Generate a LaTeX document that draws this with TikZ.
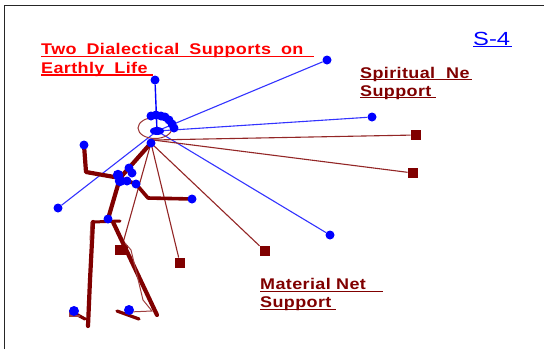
\documentclass[tikz,border=0pt]{standalone}
\usepackage{fontspec}
\usetikzlibrary{shapes.geometric}
\setmainfont{Liberation Sans}
\newfontfamily\labfont[FakeStretch=1.16,LetterSpace=2.5]{Liberation Sans}
\newfontfamily\pgfont[FakeStretch=1.25]{Liberation Sans}
\newcommand{\ulbl}[2]{\rlap{\rule[-2.4pt]{#1pt}{1.3pt}}#2}
\definecolor{dk}{RGB}{128,0,0}
\definecolor{bl}{RGB}{0,0,255}
\definecolor{rd}{RGB}{255,0,0}
\tikzset{
 dot/.style={circle,fill=bl,inner sep=0pt,minimum size=9pt},
 sq/.style={rectangle,fill=dk,inner sep=0pt,minimum size=10.5pt},
 ray/.style={draw=bl!80!white,line width=1.1pt},
 mray/.style={draw=dk!85!white,line width=1.1pt},
 limb/.style={draw=dk,line width=4.2pt,line cap=round,line join=round},
 thin/.style={draw=dk!75!white,line width=1pt},
 lab/.style={anchor=base west,inner sep=0pt,font=\labfont\bfseries\fontsize{15.5}{18}\selectfont,align=left}
}
\begin{document}
\begin{tikzpicture}[x=1pt,y=-1pt]
\useasboundingbox (0,0) rectangle (544,349);
\fill[white] (0,0) rectangle (544,349);
\draw[black!85,line width=1pt] (4.5,349) -- (4.5,5) -- (544,5);
% centre points
\coordinate (hub) at (157,131);
\coordinate (neck) at (151,143);
\coordinate (hubm) at (153,140);
% rays
\node[dot] (t) at (155,80) {};
\node[dot] (a) at (327,60) {};
\node[dot] (b) at (372,117) {};
\node[dot] (c) at (330,235) {};
\node[dot] (d) at (58,208) {};
\node[sq] (s1) at (416,135) {};
\node[sq] (s2) at (413,173) {};
\node[sq] (s3) at (265,251) {};
\node[sq] (s4) at (180,263) {};
\node[sq,minimum width=13pt] (s5) at (121,250) {};
\draw[draw=bl,line width=1.4pt] (hub) -- (t);
\foreach \n in {a,b,c,d} \draw[ray] (hub) -- (\n);
\draw[mray] (hubm) -- (s1);
\draw[mray] (hubm) -- (s2);
\foreach \n in {s3,s4,s5} \draw[mray] (neck) -- (\n);
% head
\draw[dk!80!white,line width=1pt] (155,128) ellipse (17 and 10.5);
% figure
\coordinate (lh) at (84,145);
\coordinate (le) at (86,172);
\coordinate (sh) at (120,178);
\coordinate (hip) at (108,219);
\coordinate (re) at (148,198);
\coordinate (rh) at (192,199);
\draw[limb] (lh) -- (le) -- (sh);
\draw[limb] (neck) -- (sh) -- (hip);
\draw[limb,line width=3.6pt] (sh) -- (136,184) -- (re) -- (rh);
\draw[limb,line width=3pt] (93,222) -- (120,221);
\draw[limb] (93,222) -- (90,280) -- (88,326);
\draw[limb] (113,222) -- (157,315);
\draw[limb,line width=3.2pt] (117,311) -- (139,319);
\draw[limb,line width=3.2pt] (76,314) -- (85,319);
\draw[thin,line width=1.4pt] (70,310) -- (70,316) -- (80,316);
\draw[thin] (125,243) -- (131,250) -- (143,300) -- (152,311) -- (129,312);
\draw[thin] (91,222) -- (90,240);
% dots
\node[dot] (h1) at (151,116) {};
\node[dot] (h2) at (156,115) {};
\node[dot] (h3) at (161,116) {};
\node[dot] (h3b) at (165,117) {};
\node[dot] (h4) at (169,120) {};
\node[dot] (h4b) at (172,124) {};
\node[dot] (h5) at (174,128) {};
\node[fill=bl,inner sep=0pt,minimum width=14pt,minimum height=8pt,ellipse] (h6) at (157,131) {};
\node[dot] (n) at (151,143) {};
\node[dot] (lhd) at (84,145) {};
\node[dot] (rhd) at (192,199) {};
\node[dot] (b1) at (129,168) {};
\node[dot] (b2) at (132,173) {};
\node[dot,minimum size=10.5pt] (b3) at (118,175) {};
\node[dot,minimum size=10.5pt] (b4) at (120,181) {};
\node[dot] (b5) at (127,181) {};
\node[dot] (b6) at (136,184) {};
\node[dot] (hp) at (108,219) {};
\node[dot,minimum size=10pt] (f1) at (74,311) {};
\node[dot,minimum size=10pt] (f2) at (129,310) {};
% labels
\node[lab,text=rd] (title) at (41,73.3) {\spaceskip=10pt \ulbl{273}{Two Dialectical Supports on}\\[.5pt]\spaceskip=5pt \ulbl{112}{Earthly\ \ Life}};
\node[lab,text=dk] (sp) at (360,96) {\spaceskip=11pt \ulbl{112}{Spiritual Ne}\\\ulbl{76}{Support}};
\node[lab,text=dk] (mt) at (260,307.5) {\ulbl{123}{Material Net}\\\ulbl{76}{Support}};
\node[anchor=base west,inner sep=0pt,text=bl,font=\pgfont\fontsize{19}{20}\selectfont] (s) at (473,45) {\ulbl{39}{S-4}};
\end{tikzpicture}
\end{document}
